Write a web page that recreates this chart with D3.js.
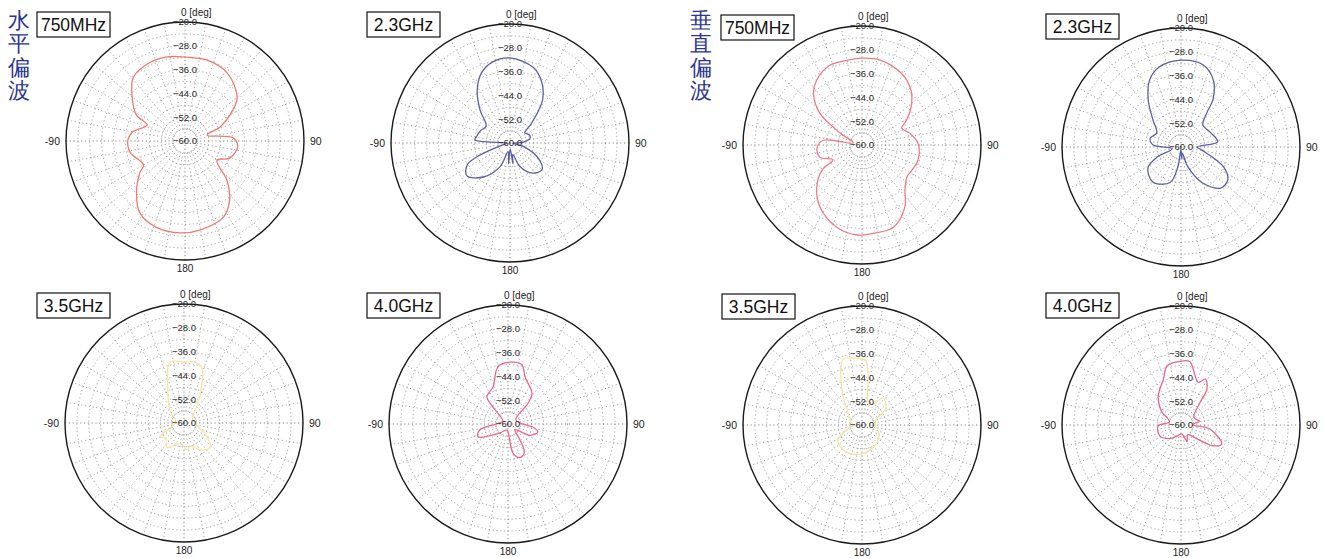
<!DOCTYPE html>
<html>
<head>
<meta charset="utf-8">
<script src="https://cdn.jsdelivr.net/npm/d3@7"></script>
<style>
  body { margin: 0; background: #fff; }
  text { font-family: "Liberation Sans", Arial, sans-serif; }
</style>
</head>
<body>
<svg id="chart" width="1324" height="558"></svg>
<script>
// measured patterns: angle [deg, 0 = top, clockwise] and level [dB]
var h750Deg  = [-177,-162,-148,-137,-125,-120,-102,-89,-80,-67,-62,-50,-39,-24,-12,0,15,32,50,57,68,75,86,96,111,121,133,143,153,170];
var h750Db   = [-29.1,-29.4,-31.4,-36.1,-41.5,-43.9,-41.2,-40.8,-42.2,-46.2,-41.5,-36.8,-32.4,-31.1,-31.1,-31.8,-31.8,-33.1,-37.1,-40.8,-47.2,-52.3,-43.9,-42.2,-43.9,-47.5,-40.8,-35.1,-31.4,-29.7];

var h23Deg   = [-176,-168,-157,-142,-127,-117,-112,-105,-95,-85,-78,-68,-55,-42,-32,-22,-12,0,17,28,37,42,48,56,66,76,86,95,105,120,130,143,157,166,172,178];
var h23Db    = [-53,-57,-51.3,-45.5,-41.8,-43.9,-49,-57,-59,-48.2,-48.6,-49.2,-50.2,-44.9,-39.2,-34.5,-32.1,-31.4,-33.4,-37.1,-41.8,-46,-50.6,-54,-53,-53,-55.5,-59,-55,-48.5,-46,-47.3,-51.3,-56,-53,-58];

var v750Deg  = [-177,-163,-146,-133,-122,-117,-106,-93,-83,-76,-61,-53,-43,-35,-22,-10,0,12,28,40,50,61,67,76,88,105,117,125,136,145,159,173];
var v750Db   = [-29.7,-31.1,-34.8,-39.2,-44.2,-49,-45.2,-44.9,-46.9,-57,-51.6,-42.2,-36.1,-33.4,-31.1,-31.1,-30.8,-30.8,-32.4,-34.8,-38.2,-42.9,-45.5,-43.5,-41.2,-40.5,-41.2,-41.5,-39.2,-34.8,-30.4,-30.1];

var v23Deg   = [-177,-171,-163,-141,-122,-113,-100,-86,-74,-60,-46,-35,-25,-15,0,15,26,34,37,45,63,82,90,98,115,125,136,149,161,169,176];
var v23Db    = [-59,-53.3,-47.5,-44.9,-46.9,-51.3,-57,-50.6,-49.2,-50.6,-46.9,-40.8,-35.1,-32.1,-30.8,-31.4,-35.1,-40.8,-45.5,-49.6,-49,-47.5,-54.6,-53,-44.2,-40.8,-40.8,-45.9,-53,-58,-56];

var h35Deg   = [-170,-145,-130,-120,-105,-90,-70,-50,-38,-26,-13,0,10,18,25,35,50,70,90,105,121,133,149,165,174];
var h35Db    = [-53,-50,-52,-50.6,-56,-57,-57,-54,-51.6,-47.6,-39,-39.5,-39.2,-40.5,-46,-52,-56,-57,-56,-55,-51,-48,-49.5,-52,-51];

var h40Deg   = [-170,-138,-113,-102,-85,-60,-38,-22,-10,2,13,20,38,44,60,85,97,105,117,130,142,150,160,170,178];
var h40Db    = [-58,-56,-49,-50.3,-57,-58,-48.5,-46.6,-40.5,-39.2,-39.5,-43.2,-46.9,-50.2,-57,-56,-51.6,-49.6,-51.6,-57,-54,-49,-48,-50,-57];

var v35Deg   = [-171,-143,-122,-105,-90,-70,-45,-30,-16,-6,3,7,15,28,38,54,70,90,110,133,162];
var v35Db    = [-50,-49.5,-50.6,-55,-57,-56,-53,-46.5,-37,-37.5,-38.2,-43,-52,-52,-48.5,-50,-55,-55.6,-54,-52.6,-51.2];

var v40Deg   = [-160,-140,-118,-92,-75,-55,-38,-21,-13,1,8,22,28,36,40,60,78,88,98,115,123,131,145,160,175];
var v40Db    = [-56,-54,-52,-52.3,-56,-52,-47.6,-43.5,-39.5,-38.5,-38.5,-44.5,-42.5,-45.2,-50,-55,-53.6,-56,-50.2,-44.9,-47.2,-53,-56,-54,-57];

var freqLabels = ["750MHz", "2.3GHz", "750MHz", "2.3GHz", "3.5GHz", "4.0GHz", "3.5GHz", "4.0GHz"];
var polLabels  = ["水平偏波", "垂直偏波"];
var labelTicks = [-20, -28, -36, -44, -52, -60];

var zip = function(a, v) {
  return a.map(function(d, i) { return {a: d, v: v[i]}; });
};

var panels = [
  {pts: zip(h750Deg, h750Db), color: "#f07a70", cx: 185,  cy: 141, bx: 37,   by: 12},
  {pts: zip(h23Deg, h23Db),   color: "#5b5ea6", cx: 510,  cy: 143, bx: 367,  by: 12},
  {pts: zip(v750Deg, v750Db), color: "#ef7a86", cx: 862,  cy: 145, bx: 721,  by: 15},
  {pts: zip(v23Deg, v23Db),   color: "#5b5ea6", cx: 1181, cy: 147, bx: 1046, by: 14},
  {pts: zip(h35Deg, h35Db),   color: "#f3e6a4", cx: 184,  cy: 423, bx: 37,   by: 293},
  {pts: zip(h40Deg, h40Db),   color: "#e9668a", cx: 508,  cy: 424, bx: 367,  by: 293},
  {pts: zip(v35Deg, v35Db),   color: "#f3e6a4", cx: 862,  cy: 425, bx: 722,  by: 294},
  {pts: zip(v40Deg, v40Db),   color: "#e9668a", cx: 1181, cy: 425, bx: 1046, by: 293}
];
panels.forEach(function(p, i) { p.label = freqLabels[i]; });

var R = 119;
var r = d3.scaleLinear().domain([-60, -20]).range([0, R]).clamp(true);
var rad = Math.PI / 180;

var line = d3.lineRadial()
    .angle(function(d) { return d.a * rad; })
    .radius(function(d) { return r(d.v); })
    .curve(d3.curveCatmullRomClosed.alpha(0.5));

var svg = d3.select("#chart");

var g = svg.selectAll("g.panel")
    .data(panels)
  .enter().append("g")
    .attr("class", "panel")
    .attr("transform", function(d) { return "translate(" + d.cx + "," + d.cy + ")"; });

// rings every 4 dB
g.selectAll("circle.ring")
    .data(d3.range(-56, -20, 4))
  .enter().append("circle")
    .attr("class", "ring")
    .attr("r", function(d) { return r(d); })
    .attr("fill", "none")
    .attr("stroke", "#8a8a8a")
    .attr("stroke-width", 0.8)
    .attr("stroke-dasharray", "1.2,2.6");

// spokes every 10 deg, the minor ones start off the centre
g.selectAll("line.spoke")
    .data(d3.range(0, 360, 10))
  .enter().append("line")
    .attr("class", "spoke")
    .attr("x1", function(d) { return d % 90 === 0 ? 0 : r(-56) * Math.sin(d * rad); })
    .attr("y1", function(d) { return d % 90 === 0 ? 0 : -r(-56) * Math.cos(d * rad); })
    .attr("x2", function(d) { return R * Math.sin(d * rad); })
    .attr("y2", function(d) { return -R * Math.cos(d * rad); })
    .attr("stroke", function(d) { return d % 90 === 0 ? "#666" : "#8a8a8a"; })
    .attr("stroke-width", 0.8)
    .attr("stroke-dasharray", "1.2,2.6");

// outer circle
g.append("circle")
    .attr("r", R)
    .attr("fill", "none")
    .attr("stroke", "#1a1a1a")
    .attr("stroke-width", 1.4);

// pattern
g.append("path")
    .attr("d", function(d) { return line(d.pts); })
    .attr("fill", "none")
    .attr("stroke", function(d) { return d.color; })
    .attr("stroke-width", 1.3)
    .attr("stroke-linejoin", "round");

// radial level labels
g.selectAll("text.lvl")
    .data(labelTicks)
  .enter().append("text")
    .attr("class", "lvl")
    .attr("x", 0)
    .attr("y", function(d) { return -r(d); })
    .attr("dy", "0.35em")
    .attr("text-anchor", "middle")
    .attr("font-size", 9.5)
    .attr("fill", "#2a2a2a")
    .text(d3.format(".1f"));

// angle labels
g.append("text")
    .attr("x", -4).attr("y", -R - 6)
    .attr("font-size", 10)
    .attr("fill", "#222")
    .text("0 [deg]");
g.append("text")
    .attr("x", -R - 6).attr("y", 0)
    .attr("dy", "0.35em")
    .attr("text-anchor", "end")
    .attr("font-size", 10.5)
    .attr("fill", "#222")
    .text("-90");
g.append("text")
    .attr("x", R + 6).attr("y", 0)
    .attr("dy", "0.35em")
    .attr("font-size", 10.5)
    .attr("fill", "#222")
    .text("90");
g.append("text")
    .attr("x", 0).attr("y", R + 8)
    .attr("dy", "0.35em")
    .attr("text-anchor", "middle")
    .attr("font-size", 10)
    .attr("fill", "#222")
    .text("180");

// frequency boxes
var box = svg.selectAll("g.box")
    .data(panels)
  .enter().append("g")
    .attr("class", "box")
    .attr("transform", function(d) { return "translate(" + d.bx + "," + d.by + ")"; });
box.append("rect")
    .attr("width", 73).attr("height", 25)
    .attr("fill", "#fff")
    .attr("stroke", "#111")
    .attr("stroke-width", 1.2);
box.append("text")
    .attr("x", 36.5).attr("y", 12.5)
    .attr("dy", "0.36em")
    .attr("text-anchor", "middle")
    .attr("font-family", "'Noto Sans', sans-serif")
    .attr("font-size", 17.5)
    .attr("fill", "#111")
    .text(function(d) { return d.label; });

// polarisation labels, written vertically
svg.selectAll("g.pol")
    .data(polLabels)
  .enter().append("g")
    .attr("class", "pol")
    .attr("transform", function(d, i) { return "translate(" + (i === 0 ? 19 : 701) + ",0)"; })
  .selectAll("text")
    .data(function(d) { return d.split(""); })
  .enter().append("text")
    .attr("x", 0)
    .attr("y", function(d, i) { return 20 + i * 23.5; })
    .attr("dy", "0.36em")
    .attr("text-anchor", "middle")
    .attr("font-family", "'Noto Sans CJK JP', sans-serif")
    .attr("font-size", 22)
    .attr("fill", "#2b3590")
    .text(function(d) { return d; });
</script>
</body>
</html>
